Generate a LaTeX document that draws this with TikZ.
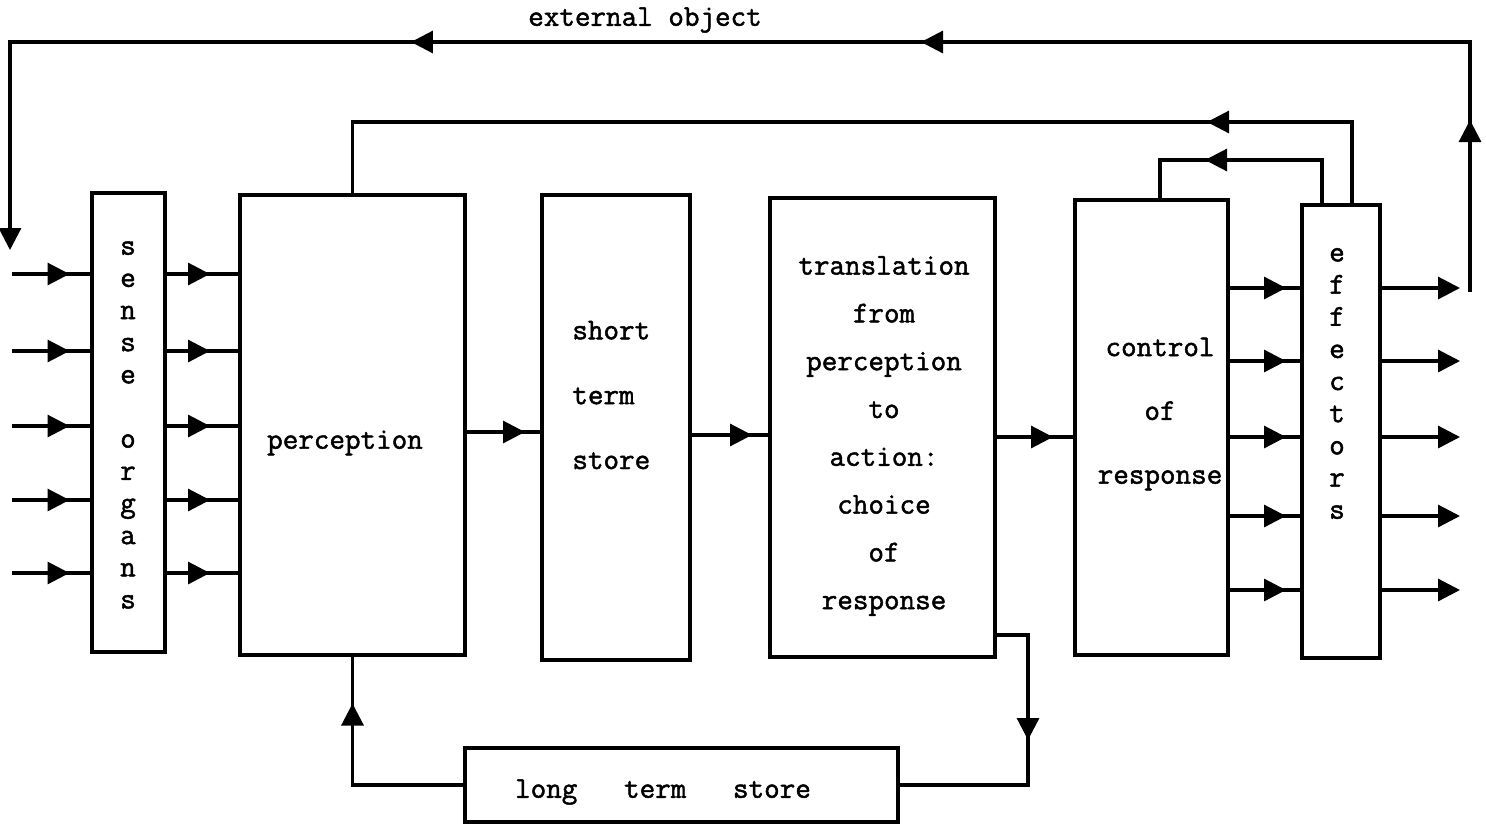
\documentclass[tikz,border=0pt]{standalone}
\usepackage{fontspec}
\newfontfamily\typewr[FakeBold=1.6]{Latin Modern Mono}
\usepackage{tikz}
\usetikzlibrary{arrows.meta, decorations.markings}

\begin{document}
\begin{tikzpicture}[
  x=0.2mm, y=-0.2mm,
  box/.style={
    rectangle, draw=black, line width=1.8pt,
    inner sep=0pt, outer sep=0pt,
  },
  txt/.style={inner sep=0pt, align=center,
    font=\typewr\fontsize{17.2}{#1}\selectfont},
  txt/.default=20,
  line/.style={draw=black, line width=1.8pt},
  arr/.style={line, -{Triangle[length=4.4mm,width=4.4mm]}},
  mid/.style={postaction={decorate, decoration={markings,
    mark=at position #1 with {\arrow{Triangle[length=4.4mm,width=4.4mm]}}}}},
]
  \useasboundingbox (0,0) rectangle (1486,826);

  \node[box, minimum width=14.6mm, minimum height=91.8mm] (sen) at (128.5,422.5) {};
  \node[box, minimum width=45mm,   minimum height=92mm]   (per) at (352.5,425) {};
  \node[box, minimum width=29.6mm, minimum height=93mm]   (sts) at (616,427.5) {};
  \node[box, minimum width=45mm,   minimum height=91.8mm] (tra) at (882.5,427.5) {};
  \node[box, minimum width=30.6mm, minimum height=91mm]   (con) at (1151.5,427.5) {};
  \node[box, minimum width=15.6mm, minimum height=90.6mm] (eff) at (1341,431.5) {};
  \node[box, minimum width=86.6mm, minimum height=14.8mm] (lts) at (681.5,785) {};

  \node[txt] (extlbl) at (645,20) {external object};
  \node[txt] (pertxt) at (345,443) {perception};
  \node[txt=36.9, align=left, anchor=west] (ststxt) at (572,395) {short\\term\\store};
  \node[txt=27.2] (tratxt) at (884,436)
    {translation\\from\\perception\\to\\action:\\choice\\of\\response};
  \node[txt=36.3] (context) at (1160,414) {control\\of\\response};
  \node[txt=18.3] (sentxt) at (128,425) {s\\e\\n\\s\\e\\[18.3pt]o\\r\\g\\a\\n\\s};
  \node[txt=18.3] (efftxt) at (1337,383.5) {e\\f\\f\\e\\c\\t\\o\\r\\s};
  \node[txt] (ltstxt) at (663,792) {long\ \ \ term\ \ \ store};

  \foreach \y in {274,351,426,500,573} {
    \coordinate (in\y) at (12,\y);
    \draw[line, mid=11.5mm] (in\y) -- (sen.west |- 0,\y);
    \draw[line, mid=9mm] (sen.east |- 0,\y) -- (per.west |- 0,\y);
  }
  \foreach \y in {288,361,437,516,590} {
    \coordinate (out\y) at (1460,\y);
    \draw[line, mid=11.6mm] (con.east |- 0,\y) -- (eff.west |- 0,\y);
    \draw[arr] (eff.east |- 0,\y) -- (out\y);
  }
  \draw[line, mid=12mm] (per.east |- 0,432) -- (sts.west |- 0,432);
  \draw[line, mid=12.4mm] (sts.east |- 0,435) -- (tra.west |- 0,435);
  \draw[line, mid=11.6mm] (tra.east |- 0,437) -- (con.west |- 0,437);

  \coordinate (conup) at ([xshift=1.7mm]con.north);
  \draw[line, mid=45.6mm] ([xshift=2.2mm]eff.north) |- (per.north |- 0,122) -- (per.north);
  \draw[line, mid=32.4mm] ([xshift=-3.8mm]eff.north) |- (conup |- 0,160) -- (conup);

  \coordinate (objin) at (10,250);
  \coordinate (objout) at (1470,292);
  \draw[arr, mid=34.4mm, mid=159.8mm, mid=261.8mm] (objout) |- (objin |- 0,42) -- (objin);

  \draw[line, mid=38.8mm] (lts.west) -| (per.south);
  \draw[line, mid=27.6mm] ([yshift=4.4mm]tra.south east) -| ([xshift=26mm]lts.east) -- (lts.east);
\end{tikzpicture}
\end{document}
